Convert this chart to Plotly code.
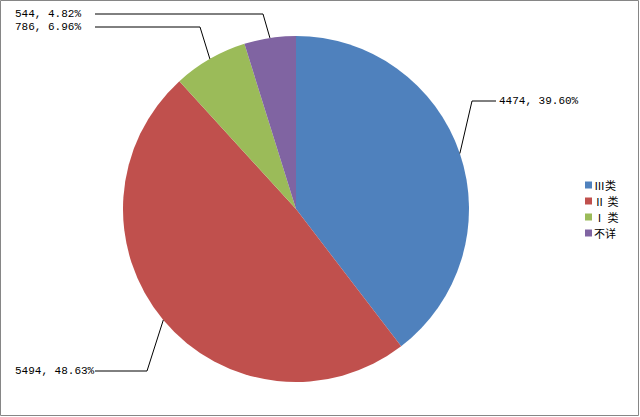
import math
import plotly.graph_objects as go

# ---- data ----
categories = ["Ⅲ类", "Ⅱ 类", "Ⅰ 类", "不详"]
values = [4474, 5494, 786, 544]
colors = ["#4F81BD", "#C0504D", "#9BBB59", "#8064A2"]

W, H = 640, 417
total = sum(values)
label_texts = [f"{v}, {v / total * 100:.2f}%" for v in values]

# pie placement (paper coords)
dom_x = [123 / W, 469 / W]
dom_y = [1 - 382 / H, 1 - 36 / H]
cx = (dom_x[0] + dom_x[1]) / 2 * W
cy = (1 - (dom_y[0] + dom_y[1]) / 2) * H
R = (dom_x[1] - dom_x[0]) * W / 2

# label layout: elbow point (px), line end x (px), text x (px), anchor
label_layout = [
    dict(elbow=(472, 101), end_x=496, text_x=497, anchor="left"),
    dict(elbow=(147, 371), end_x=95, text_x=13, anchor="left"),
    dict(elbow=(200, 27), end_x=95, text_x=13, anchor="left"),
    dict(elbow=(263, 14), end_x=95, text_x=13, anchor="left"),
]

fig = go.Figure(go.Pie(
    labels=categories,
    values=values,
    sort=False,
    direction="clockwise",
    rotation=0,
    marker=dict(colors=colors, line=dict(width=0)),
    textinfo="none",
    domain=dict(x=dom_x, y=dom_y),
    showlegend=False,
))

def px(x):
    return x / W

def py(y):
    return 1 - y / H

shapes = []
annotations = []
cum = 0
for v, txt, lay in zip(values, label_texts, label_layout):
    mid = (cum + v / 2) / total * 2 * math.pi
    cum += v
    ex = cx + R * math.sin(mid)
    ey = cy - R * math.cos(mid)
    bx, by = lay["elbow"]
    path = f"M{px(ex)},{py(ey)} L{px(bx)},{py(by)} L{px(lay['end_x'])},{py(by)}"
    shapes.append(dict(type="path", xref="paper", yref="paper", path=path,
                       line=dict(color="black", width=1)))
    annotations.append(dict(x=px(lay["text_x"]), y=py(by), xref="paper", yref="paper",
                            text=txt, showarrow=False, xanchor=lay["anchor"],
                            yanchor="middle",
                            font=dict(family="Liberation Mono, DejaVu Sans Mono, monospace",
                                      size=11, color="black")))

# custom legend
leg_x = 585
leg_y0 = 185
leg_dy = 16
for i, (cat, col) in enumerate(zip(categories, colors)):
    yy = leg_y0 + i * leg_dy
    shapes.append(dict(type="rect", xref="paper", yref="paper",
                       x0=px(leg_x), x1=px(leg_x + 7), y0=py(yy + 3.5), y1=py(yy - 3.5),
                       fillcolor=col, line=dict(width=0)))
    annotations.append(dict(x=px(leg_x + 8), y=py(yy), xref="paper", yref="paper",
                            text=cat, showarrow=False, xanchor="left", yanchor="middle",
                            borderpad=0,
                            font=dict(family="Noto Sans CJK SC", size=11, color="black")))

# outer frame
shapes.append(dict(type="rect", xref="paper", yref="paper",
                   x0=px(0.5), x1=px(638.5), y0=py(415.5), y1=py(0.5),
                   line=dict(color="#868686", width=1)))

fig.update_layout(
    width=W, height=H,
    margin=dict(l=0, r=0, t=0, b=0),
    paper_bgcolor="white",
    plot_bgcolor="white",
    shapes=shapes,
    annotations=annotations,
)

fig.write_html("out.html", config={"displayModeBar": False},
               post_script="document.body.style.margin='0';")
